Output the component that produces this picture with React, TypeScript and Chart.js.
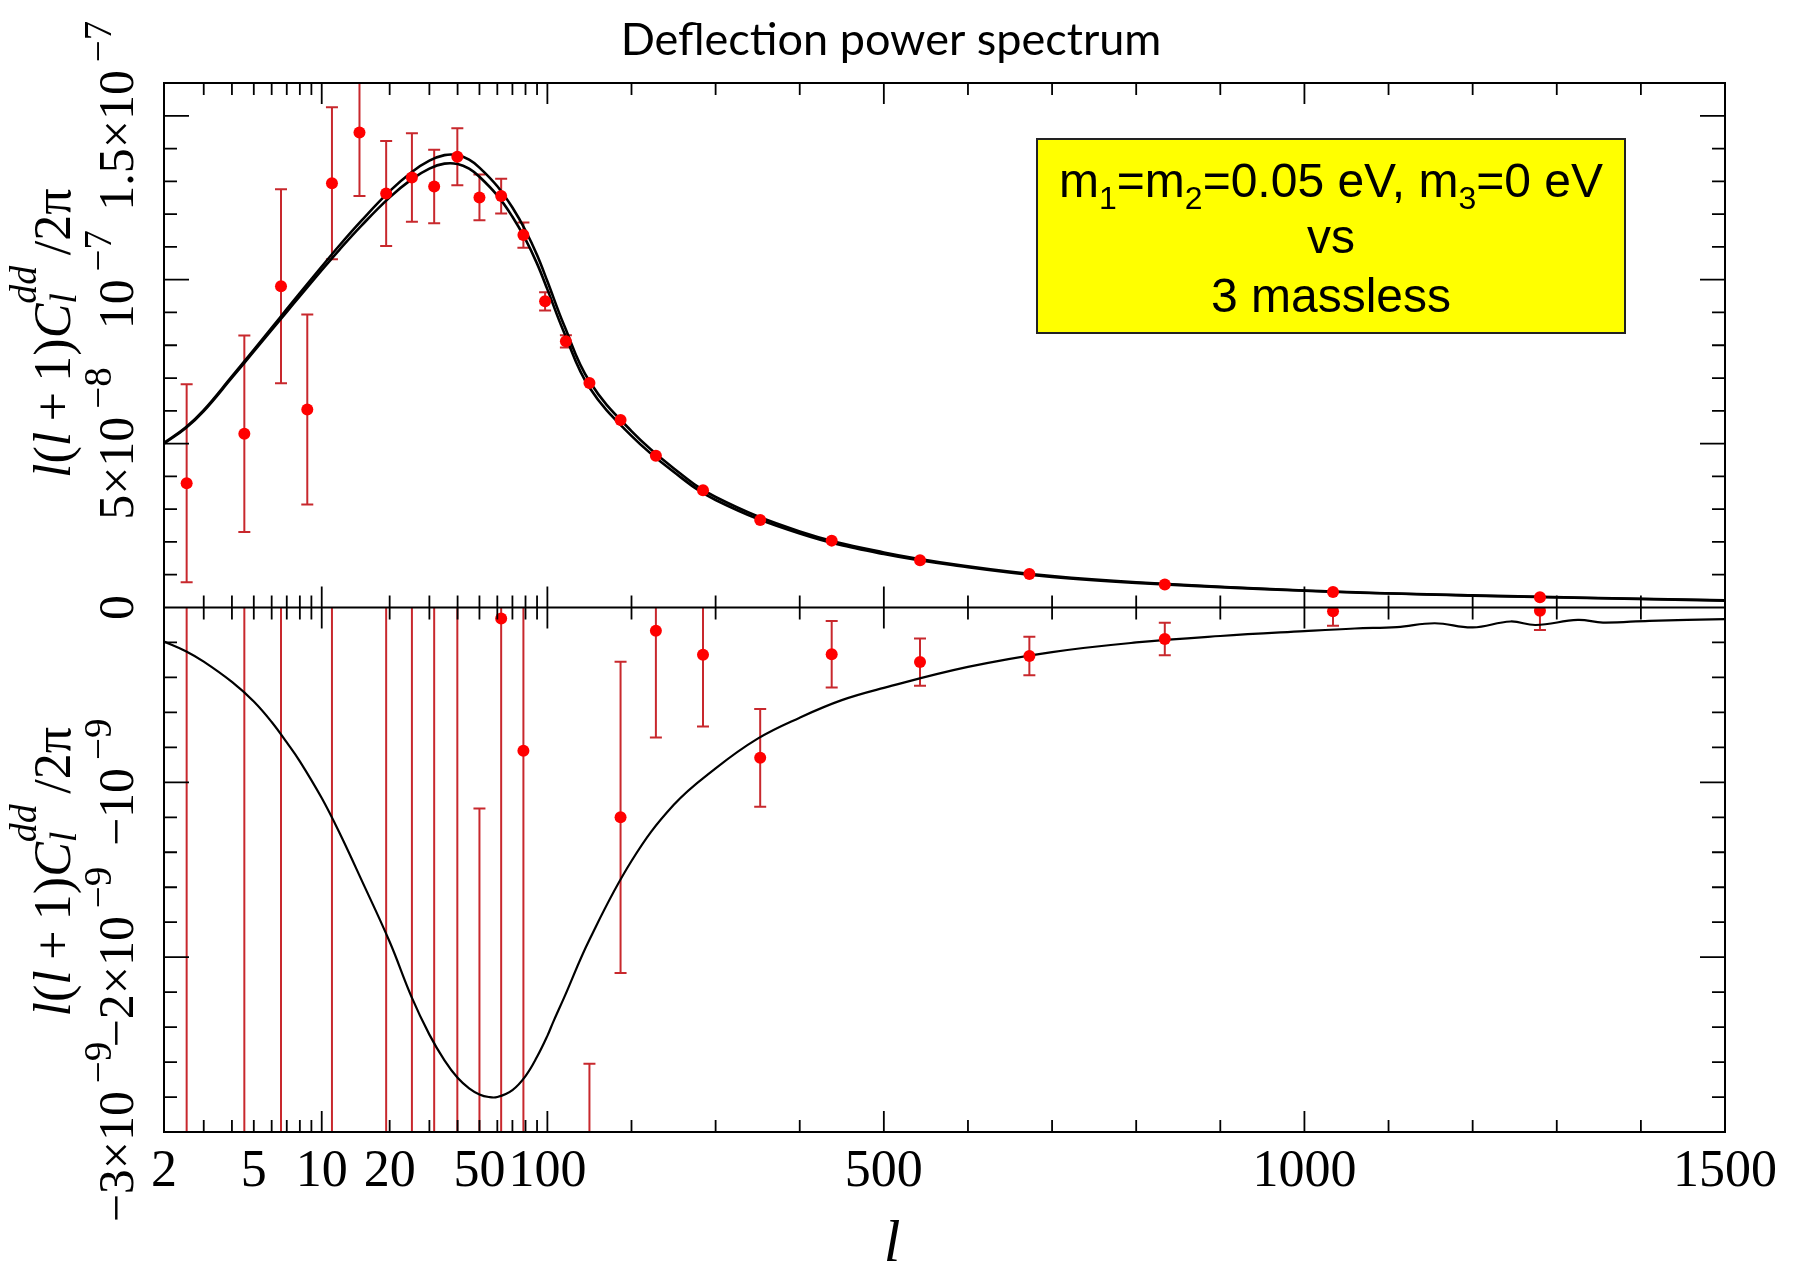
import React, { useEffect, useRef } from 'react';
import { Chart, registerables, Scale } from 'chart.js';

Chart.register(...registerables);

// ---------------- data ----------------
const TITLE = 'Deflection power spectrum';
const X_TITLE = 'l';
const BOX_LINE_2 = 'vs';
const BOX_LINE_3 = '3 massless';

const X_MIN = 2;
const X_BREAK = 100;
const X_MAX = 1500;
const X_TICK_VALUES = [2, 5, 10, 20, 50, 100, 500, 1000, 1500];
const X_MINOR_TICKS = [3, 4, 5, 6, 7, 8, 9, 20, 30, 40, 50, 60, 70, 80, 90, 200, 300, 400, 600, 700, 800, 900, 1100, 1200, 1300, 1400];
const X_MAJOR_TICKS = [10, 100, 500, 1000];

const TOP_UNIT = 1e-8;
const BOTTOM_UNIT = 1e-9;
const TOP_MIN = 0;
const TOP_MAX = 1.6e-7;
const BOTTOM_MIN = -3e-9;
const BOTTOM_MAX = 0;
const TOP_MINOR = [1, 2, 3, 4, 6, 7, 8, 9, 11, 12, 13, 14];
const TOP_MAJOR = [5, 10, 15];
const BOTTOM_MINOR = [-0.2, -0.4, -0.6, -0.8, -1.2, -1.4, -1.6, -1.8, -2.2, -2.4, -2.6, -2.8];
const BOTTOM_MAJOR = [-1, -2];

const TOP_LABEL_VALUES = [0, 5e-8, 1e-7, 1.5e-7];
const TOP_LABEL_MANTISSA = ['0', '5×10', '10', '1.5×10'];
const TOP_LABEL_EXPONENT = ['', '−8', '−7', '−7'];
const BOTTOM_LABEL_VALUES = [-1e-9, -2e-9, -3e-9];
const BOTTOM_LABEL_MANTISSA = ['−10', '−2×10', '−3×10'];
const BOTTOM_LABEL_EXPONENT = ['−9', '−9', '−9'];

// theory curves (top panel, units of 1e-8)
const CURVE_L = [2, 2.5, 3, 4, 5, 6, 7, 8, 10, 12, 15, 20, 25, 30, 35, 40, 45, 50, 60, 70, 80, 90, 100, 120, 150, 200, 250, 300, 400, 500, 600, 700, 800, 1000, 1200, 1500];
const CURVE_MASSLESS = [5.02, 5.5, 6.02, 7.05, 7.86, 8.53, 9.1, 9.59, 10.4, 11.05, 11.8, 12.7, 13.28, 13.63, 13.8, 13.8, 13.66, 13.42, 12.85, 12.2, 11.5, 10.75, 9.95, 8.6, 6.9, 5.38, 4.25, 3.37, 2.32, 1.68, 1.26, 0.96, 0.77, 0.52, 0.37, 0.22];
const CURVE_MASSIVE = [5.0, 5.475, 5.99, 7.01, 7.81, 8.47, 9.02, 9.5, 10.29, 10.92, 11.65, 12.51, 13.06, 13.39, 13.54, 13.53, 13.385, 13.14, 12.57, 11.92, 11.23, 10.49, 9.705, 8.38, 6.71, 5.235, 4.14, 3.28, 2.26, 1.63, 1.23, 0.93, 0.75, 0.51, 0.36, 0.21];

// difference curve (bottom panel, units of 1e-9)
const DIFF_L = [2, 2.5, 3, 4, 5, 6, 7, 8, 10, 12, 15, 20, 25, 30, 35, 40, 45, 50, 55, 60, 70, 80, 90, 100, 107, 120, 150, 200, 250, 300, 350, 400, 450, 500, 600, 700, 800, 900, 1000, 1060, 1110, 1155, 1200, 1245, 1275, 1325, 1355, 1410, 1500];
const DIFF_VALUES = [-0.195, -0.25, -0.31, -0.426, -0.538, -0.655, -0.772, -0.88, -1.09, -1.29, -1.558, -1.912, -2.227, -2.443, -2.59, -2.69, -2.75, -2.785, -2.8, -2.8, -2.76, -2.68, -2.57, -2.45, -2.37, -2.23, -1.9, -1.45, -1.13, -0.92, -0.75, -0.63, -0.53, -0.46, -0.34, -0.255, -0.2, -0.163, -0.135, -0.12, -0.112, -0.09, -0.114, -0.08, -0.1, -0.071, -0.086, -0.076, -0.066];

// simulated band powers
const POINT_L = [2.52, 4.54, 6.6, 8.63, 11.1, 14.7, 19.3, 25.1, 31.5, 39.9, 50, 62.4, 78.3, 97.7, 122, 150, 187, 229, 285, 353, 438, 543, 673, 834, 1034, 1280];
const TOP_VALUES = [3.79, 5.3, 9.8, 6.04, 12.94, 14.49, 12.63, 13.12, 12.84, 13.75, 12.51, 12.55, 11.36, 9.34, 8.12, 6.85, 5.72, 4.63, 3.58, 2.67, 2.04, 1.44, 1.02, 0.7, 0.47, 0.31];
const TOP_ERRORS = [3.02, 3.0, 2.96, 2.9, 2.32, 1.94, 1.6, 1.35, 1.12, 0.87, 0.7, 0.53, 0.385, 0.28, 0.185, 0, 0, 0, 0, 0, 0, 0, 0, 0, 0, 0];
const BOTTOM_VALUES = [-4, -4, -4, null, -4, null, -4, -4, -4, -4, -3.6, -0.063, -0.82, null, null, -3.5, -1.2, -0.133, -0.27, -0.86, -0.267, -0.312, -0.278, -0.18, -0.022, -0.018];
const BOTTOM_ERRORS = [5, 5, 5, null, 5, null, 5, 5, 5, 5, 2.45, 3.5, 3.0, null, null, 0.89, 0.89, 0.61, 0.41, 0.28, 0.19, 0.135, 0.11, 0.093, 0.082, 0.11];

// ---------------- styles ----------------
const RED = '#ff0000';
const ERR_RED = '#c8282d';
const SERIF = '"Liberation Serif", "Times New Roman", serif';
const SANS = '"Liberation Sans", Arial, sans-serif';
const LOG_FRACTION = 0.2456;

function hybridDecimal(l: number) {
  if (l <= X_BREAK) return (LOG_FRACTION * Math.log10(l / X_MIN)) / Math.log10(X_BREAK / X_MIN);
  return LOG_FRACTION + ((1 - LOG_FRACTION) * (l - X_BREAK)) / (X_MAX - X_BREAK);
}
function hybridInverse(d: number) {
  if (d <= LOG_FRACTION) return X_MIN * Math.pow(X_BREAK / X_MIN, d / LOG_FRACTION);
  return X_BREAK + ((d - LOG_FRACTION) / (1 - LOG_FRACTION)) * (X_MAX - X_BREAK);
}

// log axis below l=100, linear above (as in the original figure)
class HybridScale extends (Scale as any) {
  static id = 'hybrid';
  static defaults = {};
  determineDataLimits() {
    (this as any).min = X_MIN;
    (this as any).max = X_MAX;
  }
  buildTicks() {
    return X_TICK_VALUES.map((value) => ({ value }));
  }
  getPixelForValue(value: number) {
    return (this as any).getPixelForDecimal(hybridDecimal(value));
  }
  getValueForPixel(pixel: number) {
    return hybridInverse((this as any).getDecimalForPixel(pixel));
  }
}
Chart.register(HybridScale as any);

type Item = { text: string; font: string; dy?: number };
function drawGroups(ctx: CanvasRenderingContext2D, groups: Item[][], cx: number, cy: number, rotate: boolean) {
  const laid = groups.map((g) => {
    const widths = g.map((it) => {
      ctx.font = it.font;
      return ctx.measureText(it.text).width;
    });
    return { items: g, width: Math.max(...widths) };
  });
  const total = laid.reduce((s, g) => s + g.width, 0);
  ctx.save();
  ctx.translate(cx, cy);
  if (rotate) ctx.rotate(-Math.PI / 2);
  ctx.textAlign = 'left';
  ctx.textBaseline = 'alphabetic';
  ctx.fillStyle = '#000';
  let x = -total / 2;
  for (const g of laid) {
    for (const it of g.items) {
      ctx.font = it.font;
      ctx.fillText(it.text, x, it.dy || 0);
    }
    x += g.width;
  }
  ctx.restore();
}

function drawErrorBars(ctx: any, xs: any, ys: any, area: any, L: number[], V: any[], E: any[], unit: number) {
  ctx.save();
  ctx.beginPath();
  ctx.rect(area.left, ys.top, area.right - area.left, ys.bottom - ys.top);
  ctx.clip();
  ctx.strokeStyle = ERR_RED;
  ctx.lineWidth = 2;
  for (let i = 0; i < L.length; i++) {
    const v = V[i];
    const e = E[i];
    if (v === null || !e) continue;
    const px = xs.getPixelForValue(L[i]);
    const top = ys.getPixelForValue((v + e) * unit);
    const bot = ys.getPixelForValue((v - e) * unit);
    ctx.beginPath();
    ctx.moveTo(px, top);
    ctx.lineTo(px, bot);
    ctx.moveTo(px - 6, top);
    ctx.lineTo(px + 6, top);
    ctx.moveTo(px - 6, bot);
    ctx.lineTo(px + 6, bot);
    ctx.stroke();
  }
  ctx.restore();
}

const decorPlugin = {
  id: 'decor',
  beforeDatasetsDraw(chart: any) {
    const { ctx, chartArea } = chart;
    const xs = chart.scales.x;
    drawErrorBars(ctx, xs, chart.scales.yTop, chartArea, POINT_L, TOP_VALUES, TOP_ERRORS, TOP_UNIT);
    drawErrorBars(ctx, xs, chart.scales.yBottom, chartArea, POINT_L, BOTTOM_VALUES, BOTTOM_ERRORS, BOTTOM_UNIT);
  },
  afterDraw(chart: any) {
    const { ctx, chartArea: a } = chart;
    const xs = chart.scales.x;
    const yt = chart.scales.yTop;
    const yb = chart.scales.yBottom;
    const mid = yt.bottom;
    ctx.save();
    ctx.strokeStyle = '#000';
    ctx.lineWidth = 2;
    ctx.strokeRect(a.left, a.top, a.right - a.left, a.bottom - a.top);
    ctx.beginPath();
    ctx.moveTo(a.left, mid);
    ctx.lineTo(a.right, mid);
    ctx.stroke();

    ctx.lineWidth = 1.8;
    const edges: [number, number][] = [[a.top, 1], [mid, -1], [mid, 1], [a.bottom, -1]];
    const xTick = (l: number, len: number) => {
      const px = xs.getPixelForValue(l);
      for (const [ey, dir] of edges) {
        ctx.beginPath();
        ctx.moveTo(px, ey);
        ctx.lineTo(px, ey + dir * len);
        ctx.stroke();
      }
    };
    X_MINOR_TICKS.forEach((l) => xTick(l, 12));
    X_MAJOR_TICKS.forEach((l) => xTick(l, 21));
    const yTick = (py: number, len: number) => {
      ctx.beginPath();
      ctx.moveTo(a.left, py);
      ctx.lineTo(a.left + len, py);
      ctx.moveTo(a.right, py);
      ctx.lineTo(a.right - len, py);
      ctx.stroke();
    };
    TOP_MINOR.forEach((v) => yTick(yt.getPixelForValue(v * TOP_UNIT), 13));
    TOP_MAJOR.forEach((v) => yTick(yt.getPixelForValue(v * TOP_UNIT), 25));
    BOTTOM_MINOR.forEach((v) => yTick(yb.getPixelForValue(v * BOTTOM_UNIT), 13));
    BOTTOM_MAJOR.forEach((v) => yTick(yb.getPixelForValue(v * BOTTOM_UNIT), 25));
    ctx.restore();

    // y tick labels (rotated)
    const F = `50px ${SERIF}`;
    const FE = `39px ${SERIF}`;
    const LX = 133;
    TOP_LABEL_VALUES.forEach((v, i) => {
      const groups: Item[][] = [[{ text: TOP_LABEL_MANTISSA[i], font: F }]];
      if (TOP_LABEL_EXPONENT[i]) groups.push([{ text: '\u2009' + TOP_LABEL_EXPONENT[i], font: FE, dy: -22 }]);
      drawGroups(ctx, groups, LX, yt.getPixelForValue(v), true);
    });
    BOTTOM_LABEL_VALUES.forEach((v, i) => {
      const groups: Item[][] = [[{ text: BOTTOM_LABEL_MANTISSA[i], font: F }], [{ text: '\u2009' + BOTTOM_LABEL_EXPONENT[i], font: FE, dy: -22 }]];
      drawGroups(ctx, groups, LX, yb.getPixelForValue(v), true);
    });

    // y axis titles
    const I = `italic 52px ${SERIF}`;
    const R = `52px ${SERIF}`;
    const IS = `italic 38px ${SERIF}`;
    const titleGroups: Item[][] = [
      [{ text: 'l', font: I }],
      [{ text: '(', font: R }],
      [{ text: 'l', font: I }],
      [{ text: '\u2009+\u20091)', font: R }],
      [{ text: 'C', font: I }],
      [{ text: 'l', font: IS, dy: 6 }, { text: 'dd', font: IS, dy: -34 }],
      [{ text: '\u2009/2', font: R }],
      [{ text: 'π', font: R }],
    ];
    drawGroups(ctx, titleGroups, 70, (a.top + mid) / 2 - 12, true);
    drawGroups(ctx, titleGroups, 70, (mid + a.bottom) / 2 + 2, true);

    // x axis title
    ctx.save();
    ctx.font = `italic 60px ${SERIF}`;
    ctx.fillStyle = '#000';
    ctx.textAlign = 'center';
    ctx.textBaseline = 'alphabetic';
    ctx.fillText(X_TITLE, 892, 1261);
    // chart title
    ctx.font = `45px Lato, ${SANS}`;
    ctx.fillText(TITLE, 891, 55);
    ctx.restore();

    // annotation box
    const bx = 1037, by = 139, bw = 588, bh = 194;
    ctx.save();
    ctx.fillStyle = '#ffff00';
    ctx.fillRect(bx, by, bw, bh);
    ctx.strokeStyle = '#222';
    ctx.lineWidth = 2;
    ctx.strokeRect(bx, by, bw, bh);
    ctx.restore();
    const B = `48px ${SANS}`;
    const BS = `32px ${SANS}`;
    const cx = bx + bw / 2;
    drawGroups(
      ctx,
      [
        [{ text: 'm', font: B }],
        [{ text: '1', font: BS, dy: 12 }],
        [{ text: '=m', font: B }],
        [{ text: '2', font: BS, dy: 12 }],
        [{ text: '=0.05 eV, m', font: B }],
        [{ text: '3', font: BS, dy: 12 }],
        [{ text: '=0 eV', font: B }],
      ],
      cx,
      197,
      false
    );
    drawGroups(ctx, [[{ text: BOX_LINE_2, font: B }]], cx, 253, false);
    drawGroups(ctx, [[{ text: BOX_LINE_3, font: B }]], cx, 312, false);
  },
};

export default function App() {
  const ref = useRef<HTMLCanvasElement>(null);
  useEffect(() => {
    if (!ref.current) return;
    const topPoints = POINT_L.map((l, i) => ({ x: l, y: TOP_VALUES[i] * TOP_UNIT }));
    const bottomPoints = POINT_L.map((l, i) => ({ l, v: BOTTOM_VALUES[i] }))
      .filter((p) => p.v !== null)
      .map((p) => ({ x: p.l, y: (p.v as number) * BOTTOM_UNIT }));
    const curve = (label: string, L: number[], V: number[], unit: number, axis: string, width: number) =>
      ({
        type: 'line',
        label,
        data: L.map((l, i) => ({ x: l, y: V[i] * unit })),
        xAxisID: 'x',
        yAxisID: axis,
        borderColor: '#000',
        borderWidth: width,
        pointRadius: 0,
        fill: false,
        tension: 0.4,
        order: 1,
      }) as any;
    const chart = new Chart(ref.current, {
      type: 'line',
      data: {
        datasets: [
          {
            type: 'scatter',
            label: 'simulated data',
            data: topPoints,
            xAxisID: 'x',
            yAxisID: 'yTop',
            pointRadius: 6,
            pointBackgroundColor: RED,
            pointBorderWidth: 0,
            showLine: false,
            order: 0,
          } as any,
          {
            type: 'scatter',
            label: 'simulated difference',
            data: bottomPoints,
            xAxisID: 'x',
            yAxisID: 'yBottom',
            pointRadius: 6,
            pointBackgroundColor: RED,
            pointBorderWidth: 0,
            showLine: false,
            order: 0,
          } as any,
          curve('3 massless', CURVE_L, CURVE_MASSLESS, TOP_UNIT, 'yTop', 2.6),
          curve('m1=m2=0.05 eV, m3=0 eV', CURVE_L, CURVE_MASSIVE, TOP_UNIT, 'yTop', 2.6),
          curve('difference', DIFF_L, DIFF_VALUES, BOTTOM_UNIT, 'yBottom', 2.2),
        ],
      },
      options: {
        responsive: false,
        animation: false,
        events: [],
        layout: { padding: { left: 164, right: 77, top: 83, bottom: 0 } },
        plugins: { legend: { display: false }, tooltip: { enabled: false }, title: { display: false } },
        scales: {
          x: {
            type: 'hybrid',
            position: 'bottom',
            min: X_MIN,
            max: X_MAX,
            grid: { display: false, drawTicks: false },
            border: { display: false },
            ticks: {
              autoSkip: false,
              maxRotation: 0,
              minRotation: 0,
              padding: 9,
              color: '#000',
              font: { family: SERIF, size: 52 },
            },
            title: { display: false },
            afterFit: (s: any) => {
              s.height = 132;
            },
          } as any,
          yTop: {
            type: 'linear',
            position: 'left',
            stack: 'panels',
            stackWeight: 1,
            weight: 2,
            min: TOP_MIN,
            max: TOP_MAX,
            ticks: { display: false },
            grid: { display: false, drawTicks: false },
            border: { display: false },
            afterFit: (s: any) => {
              s.width = 0;
            },
          } as any,
          yBottom: {
            type: 'linear',
            position: 'left',
            stack: 'panels',
            stackWeight: 1,
            weight: 1,
            min: BOTTOM_MIN,
            max: BOTTOM_MAX,
            ticks: { display: false },
            grid: { display: false, drawTicks: false },
            border: { display: false },
            afterFit: (s: any) => {
              s.width = 0;
            },
          } as any,
        },
      } as any,
      plugins: [decorPlugin],
    });
    return () => chart.destroy();
  }, []);
  return (
    <div style={{ position: 'absolute', left: 0, top: 0, width: 1802, height: 1264, background: '#fff' }}>
      <canvas ref={ref} width={1802} height={1264} style={{ width: 1802, height: 1264, display: 'block' }} />
    </div>
  );
}
